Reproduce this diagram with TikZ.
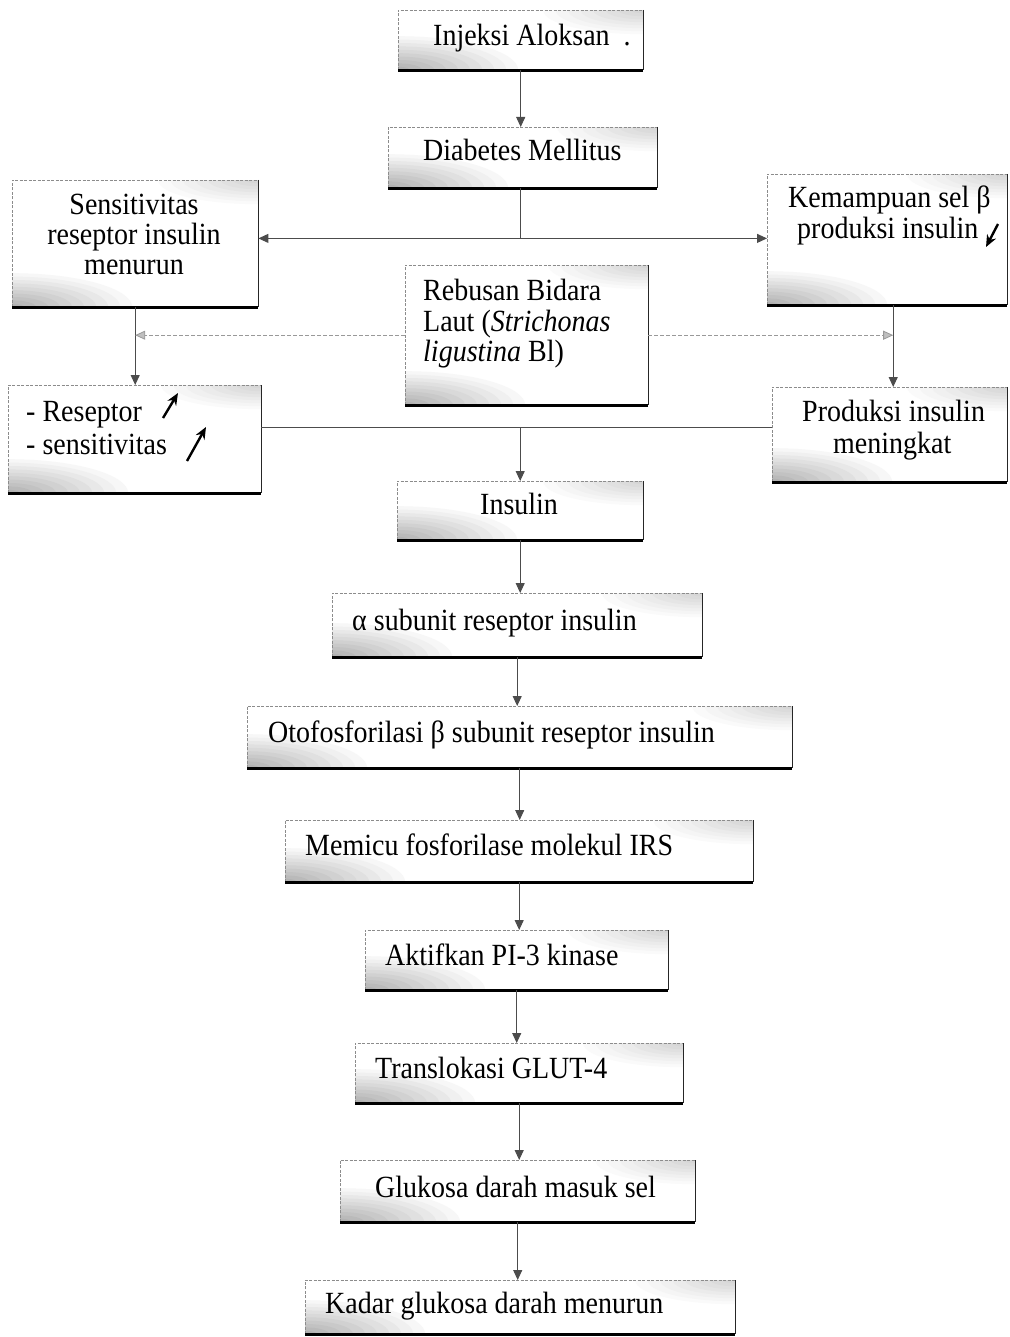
\documentclass[tikz,border=0pt]{standalone}
\usepackage{fontspec}
\setmainfont{Liberation Serif}
\usetikzlibrary{arrows.meta,calc}
\tikzset{
  box/.style={inner sep=0pt, anchor=north west, fill=white, path picture={
    \foreach \i in {0,...,9}{
      \pgfmathtruncatemacro\cl{3+3*\i}
      \pgfmathsetmacro\rr{1-\i/10}
      \fill[black!\cl] (path picture bounding box.south west) ellipse [x radius=\rr*120pt, y radius=\rr*34pt];
    }
    \foreach \i in {0,...,7}{
      \pgfmathtruncatemacro\cl{2+2*\i}
      \pgfmathsetmacro\rr{1-\i/8}
      \fill[black!\cl] (path picture bounding box.north east) ellipse [x radius=\rr*100pt, y radius=\rr*24pt];
    }
  }},
  tledge/.style={draw=black!45, line width=0.6pt, dash pattern=on 3pt off 1.5pt},
  redge/.style={draw=black!85, line width=1.8pt},
  bedge/.style={draw=black, line width=3.2pt},
  txt/.style={inner sep=0pt, font=\fontsize{28}{33}\selectfont, anchor=base west, yscale=1.1},
  ctxt/.style={txt, anchor=base},
  ln/.style={draw=black!70, line width=1pt},
  arr/.style={ln, -{Triangle[length=10pt,width=9pt]}},
  larr/.style={draw=black!40, line width=0.8pt, dash pattern=on 4pt off 2pt, -{Triangle[length=10pt,width=9pt,fill=black!25]}},
  updown/.style={draw=black, line width=2.4pt, -{Stealth[length=12pt,width=10pt]}},
}
\newcommand{\boxedges}[1]{%
  \draw[tledge] (#1.south west) -- (#1.north west) -- (#1.north east);
  \draw[redge] (#1.north east) -- (#1.south east);
  \draw[bedge] (#1.south west) -- (#1.south east);}
\begin{document}
\begin{tikzpicture}[x=1pt,y=-1pt]
\useasboundingbox (0,0) rectangle (1009,1337);
% boxes
\node[box, minimum width=245pt, minimum height=60pt] (n1) at (398,10) {};
\node[box, minimum width=269pt, minimum height=61pt] (n2) at (388,127) {};
\node[box, minimum width=246pt, minimum height=127pt] (n3) at (12,180) {};
\node[box, minimum width=240pt, minimum height=131pt] (n4) at (767,174) {};
\node[box, minimum width=243pt, minimum height=140pt] (n5) at (405,265) {};
\node[box, minimum width=253pt, minimum height=108pt] (n6) at (8,385) {};
\node[box, minimum width=235pt, minimum height=95pt] (n7) at (772,387) {};
\node[box, minimum width=246pt, minimum height=59pt] (n8) at (397,481) {};
\node[box, minimum width=370pt, minimum height=64pt] (n9) at (332,593) {};
\node[box, minimum width=545pt, minimum height=62pt] (n10) at (247,706) {};
\node[box, minimum width=468pt, minimum height=62pt] (n11) at (285,820) {};
\node[box, minimum width=303pt, minimum height=60pt] (n12) at (365,930) {};
\node[box, minimum width=328pt, minimum height=60pt] (n13) at (355,1043) {};
\node[box, minimum width=355pt, minimum height=62pt] (n14) at (340,1160) {};
\node[box, minimum width=430pt, minimum height=54pt] (n15) at (305,1280) {};
\foreach \b in {n1,n2,n3,n4,n5,n6,n7,n8,n9,n10,n11,n12,n13,n14,n15}{\boxedges{\b}}
% texts
\node[txt] (t1) at (433,46) {Injeksi Aloksan\hspace{14pt}.};
\node[txt] (t2) at (423,161) {Diabetes Mellitus};
\node[ctxt] (t3a) at (134,215) {Sensitivitas};
\node[ctxt] (t3b) at (134,245) {reseptor insulin};
\node[ctxt] (t3c) at (134,275) {menurun};
\node[txt] (t4a) at (788,208) {Kemampuan sel β};
\node[txt] (t4b) at (797,239) {produksi insulin};
\node[txt] (t5a) at (423,301) {Rebusan Bidara};
\node[txt] (t5b) at (423,331) {Laut (\textit{Strichonas}};
\node[txt] (t5c) at (423,361) {\textit{ligustina} Bl)};
\node[txt] (t6a) at (26,421) {- Reseptor};
\node[txt] (t6b) at (26,454) {- sensitivitas};
\node[txt] (t7a) at (802,421) {Produksi insulin};
\node[txt] (t7b) at (833,453) {meningkat};
\node[txt] (t8) at (480,514) {Insulin};
\node[txt] (t9) at (352,630) {α subunit reseptor insulin};
\node[txt] (t10) at (268,742) {Otofosforilasi β subunit reseptor insulin};
\node[txt] (t11) at (305,855) {Memicu fosforilase molekul IRS};
\node[txt] (t12) at (385,965) {Aktifkan PI-3 kinase};
\node[txt] (t13) at (375,1078) {Translokasi GLUT-4};
\node[txt] (t14) at (375,1197) {Glukosa darah masuk sel};
\node[txt] (t15) at (325,1313) {Kadar glukosa darah menurun};
% small trend arrows inside texts
\draw[updown] (163,418) -- (178,393);
\draw[updown] (187,461) -- (206,427);
\draw[updown] (998,224) -- (986,247);
% connectors
\draw[arr] (n1.south) -- (n1.south |- n2.north);
\draw[ln] (n1.south |- n2.south) -- ++(0,50) coordinate (j1);
\draw[arr] (j1) -- (j1 -| n3.east);
\draw[arr] (j1) -- (j1 -| n4.west);
\draw[arr] (n3.south) -- (n3.south |- n6.north);
\coordinate (k) at ([xshift=6pt]n4.south);
\draw[arr] (k) -- (k |- n7.north);
\draw[larr] (n5.west) -- (n5.west -| n3.south);
\draw[larr] (n5.east) -- (n5.east -| k);
\coordinate (h1) at ([yshift=12pt]n6.east);
\draw[ln] (h1) -- (h1 -| n7.west);
\draw[arr] (h1 -| n8.north) -- (n8.north);
\draw[arr] (n8.south) -- (n8.south |- n9.north);
\draw[arr] (n9.south) -- (n9.south |- n10.north);
\draw[arr] (n10.south) -- (n10.south |- n11.north);
\draw[arr] (n11.south) -- (n11.south |- n12.north);
\draw[arr] (n12.south) -- (n12.south |- n13.north);
\draw[arr] (n13.south) -- (n13.south |- n14.north);
\draw[arr] (n14.south) -- (n14.south |- n15.north);
\end{tikzpicture}
\end{document}
